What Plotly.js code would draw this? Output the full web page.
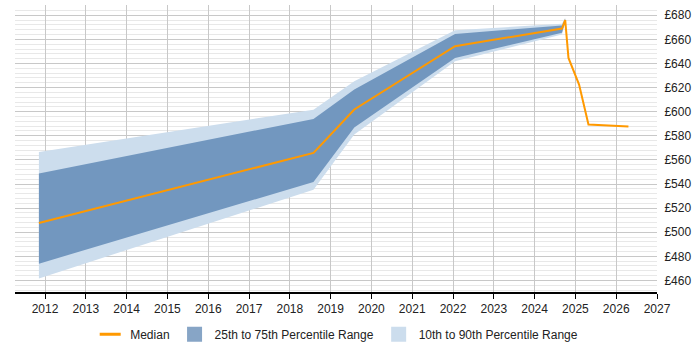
<!DOCTYPE html>
<html>
<head>
<meta charset="utf-8">
<script src="https://cdn.plot.ly/plotly-3.0.1.min.js"></script>
<style>
  html, body { margin: 0; padding: 0; background: #fff; }
  #chart { width: 700px; height: 350px; }
</style>
</head>
<body>
<div id="chart"></div>
<script>
// Band dates (decimal years) and percentile values
var bandYears = [2011.85, 2018.58, 2019.58, 2022.05, 2024.67, 2024.75];
var p10 = [461.7, 535.3, 581.0, 641.8, 664.0, 673.5];
var p25 = [473.9, 541.7, 586.8, 644.6, 665.4, 674.5];
var p75 = [548.8, 594.0, 618.3, 664.5, 671.5, 677.0];
var p90 = [566.6, 601.7, 625.2, 667.5, 672.9, 678.0];

// Median series, which continues after the bands stop
var medianYears = [2011.85, 2018.58, 2019.58, 2022.05, 2024.67, 2024.75, 2024.83, 2025.09, 2025.32, 2026.30];
var median = [507.6, 565.8, 601.8, 654.3, 669.0, 676.0, 644.6, 622.5, 589.3, 587.6];

var yearTicks = [2012, 2013, 2014, 2015, 2016, 2017, 2018, 2019, 2020, 2021, 2022, 2023, 2024, 2025, 2026, 2027];
var priceTicks = [460, 480, 500, 520, 540, 560, 580, 600, 620, 640, 660, 680];

var lightFill = 'rgb(204,221,237)';
var darkFill = 'rgb(114,151,191)';
var darkSwatch = 'rgb(135,165,198)';
var orange = 'rgb(255,153,0)';

var traces = [
  { x: bandYears, y: p10, mode: 'lines', line: {width: 0, color: lightFill}, showlegend: false, hoverinfo: 'skip' },
  { x: bandYears, y: p90, mode: 'lines', fill: 'tonexty', fillcolor: lightFill, line: {width: 0, color: lightFill},
    showlegend: false, hoverinfo: 'skip' },
  { x: bandYears, y: p25, mode: 'lines', line: {width: 0, color: darkFill}, showlegend: false, hoverinfo: 'skip' },
  { x: bandYears, y: p75, mode: 'lines', fill: 'tonexty', fillcolor: darkFill, line: {width: 0, color: darkFill},
    showlegend: false, hoverinfo: 'skip' },
  { x: medianYears, y: median, mode: 'lines', line: {width: 2, color: orange}, name: 'Median', showlegend: false },
  // Legend keys: short dash for the median, squares for the shaded ranges
  { x: [null], y: [null], mode: 'markers', name: 'Median',
    marker: {symbol: 'line-ew-open', size: 15, color: orange, line: {width: 3, color: orange}} },
  { x: [null], y: [null], mode: 'markers', name: '25th to 75th Percentile Range',
    marker: {symbol: 'square', size: 15, color: darkSwatch} },
  { x: [null], y: [null], mode: 'markers', name: '10th to 90th Percentile Range',
    marker: {symbol: 'square', size: 15, color: lightFill} }
];

var layout = {
  width: 700, height: 350,
  margin: {l: 15, r: 43, t: 5, b: 58},
  paper_bgcolor: '#fff', plot_bgcolor: '#fff',
  font: {family: 'Liberation Sans, Arial, sans-serif', size: 12, color: '#222'},
  showlegend: true,
  legend: {orientation: 'h', traceorder: 'normal', x: 0.481, xanchor: 'center', xref: 'container',
           y: 0.045, yanchor: 'middle', yref: 'container',
           font: {size: 12, color: '#222'}, itemwidth: 30},
  xaxis: {
    range: [2011.264, 2027], tickmode: 'array', tickvals: yearTicks,
    ticktext: yearTicks.map(String),
    showgrid: true, gridcolor: '#c8c8c8', gridwidth: 1,
    showline: true, linecolor: '#000', linewidth: 1.5,
    ticks: 'outside', ticklen: 5, tickcolor: '#000',
    zeroline: false, fixedrange: true, automargin: false
  },
  yaxis: {
    side: 'right', range: [450.4, 688.5],
    tickmode: 'array', tickvals: priceTicks, ticktext: priceTicks.map(function (v) { return '£' + v; }),
    showgrid: true, gridcolor: '#c8c8c8', gridwidth: 1,
    minor: {dtick: 4, tick0: 0, showgrid: true, gridcolor: '#e8e8e8', gridwidth: 1},
    showline: false, ticks: 'outside', ticklen: 4, tickcolor: '#fff',
    zeroline: false, fixedrange: true, automargin: false
  }
};

Plotly.newPlot('chart', traces, layout, {displayModeBar: false, staticPlot: true});
</script>
</body>
</html>
